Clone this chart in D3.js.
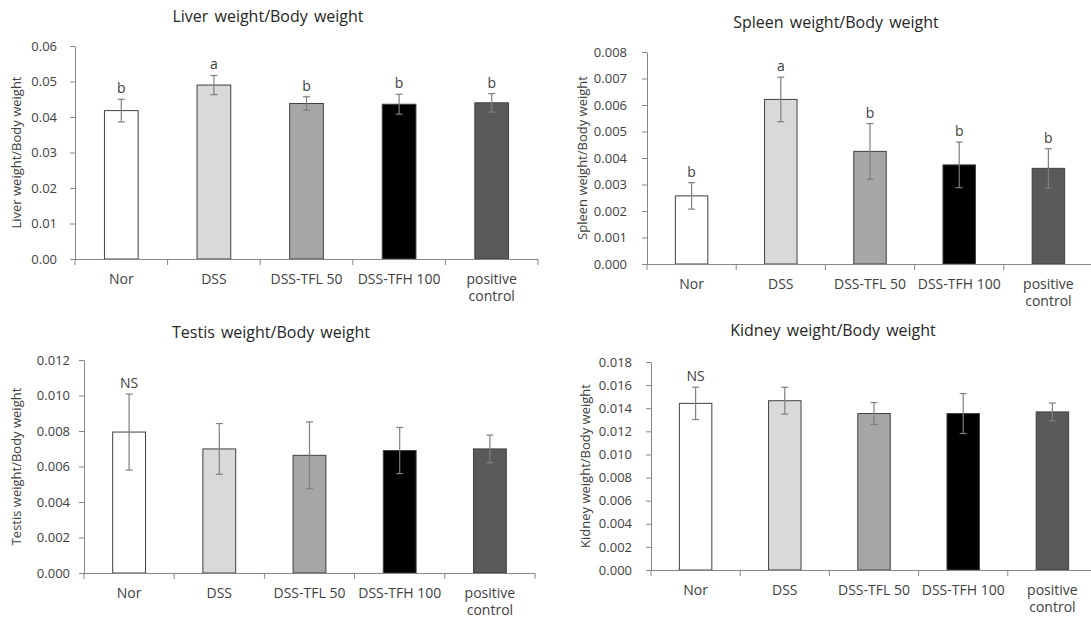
<!DOCTYPE html>
<html>
<head>
<meta charset="utf-8">
<script src="https://cdn.jsdelivr.net/npm/d3@7"></script>
<style>
  body { margin: 0; background: #fff; }
  svg { display: block; font-family: "Open Sans", "Noto Sans", sans-serif; }
</style>
</head>
<body>
<div id="chart"></div>
<script>
// data
const categories = ['Nor', 'DSS', 'DSS-TFL 50', 'DSS-TFH 100', 'positive control'];

const liverMean = [0.0418, 0.0490, 0.0438, 0.0436, 0.0440];
const liverErr = [0.0032, 0.0027, 0.0019, 0.0028, 0.0026];
const liverMarks = ['b', 'a', 'b', 'b', 'b'];
const liverTicks = [0, 0.01, 0.02, 0.03, 0.04, 0.05, 0.06];

const spleenMean = [0.00257, 0.00621, 0.00425, 0.00374, 0.00361];
const spleenErr = [0.00050, 0.00084, 0.00105, 0.00086, 0.00074];
const spleenMarks = ['b', 'a', 'b', 'b', 'b'];
const spleenTicks = [0, 0.001, 0.002, 0.003, 0.004, 0.005, 0.006, 0.007, 0.008];

const testisMean = [0.00794, 0.00699, 0.00663, 0.00690, 0.00699];
const testisErr = [0.00214, 0.00143, 0.00188, 0.00130, 0.00078];
const testisMarks = ['NS', '', '', '', ''];
const testisTicks = [0, 0.002, 0.004, 0.006, 0.008, 0.010, 0.012];

const kidneyMean = [0.01442, 0.01465, 0.01354, 0.01354, 0.01368];
const kidneyErr = [0.00140, 0.00116, 0.00095, 0.00173, 0.00077];
const kidneyMarks = ['NS', '', '', '', ''];
const kidneyTicks = [0, 0.002, 0.004, 0.006, 0.008, 0.010, 0.012, 0.014, 0.016, 0.018];

// styles
const barColors = ['#ffffff', '#d9d9d9', '#a6a6a6', '#000000', '#595959'];
const textColor = '#404040';
const axisColor = '#868686';
const gap = 0.636; // excel gap width 175%

const svg = d3.select('#chart').append('svg')
  .attr('width', 1091)
  .attr('height', 618);

function drawPanel (p) {
  const g = svg.append('g');

  const y = d3.scaleLinear()
    .domain([0, d3.max(p.ticks)])
    .range([p.bottom, p.top]);

  const x = d3.scaleBand()
    .domain(categories)
    .range([p.left, p.right])
    .paddingInner(gap)
    .paddingOuter(gap / 2);

  // title
  g.append('text')
    .attr('x', p.titleX)
    .attr('y', p.titleY)
    .attr('text-anchor', 'middle')
    .attr('font-size', 16)
    .attr('word-spacing', 2)
    .attr('fill', '#262626')
    .text(p.title);

  // y axis label
  g.append('text')
    .attr('transform', `translate(${p.labelX}, ${(p.top + p.bottom) / 2}) rotate(-90)`)
    .attr('text-anchor', 'middle')
    .attr('font-size', 13)
    .attr('fill', textColor)
    .text(p.title);

  // y axis
  const yAxis = g.append('g')
    .attr('transform', `translate(${p.left}, 0)`)
    .call(d3.axisLeft(y).tickValues(p.ticks).tickFormat(d3.format(p.fmt)).tickSize(5).tickSizeOuter(0));
  yAxis.select('.domain').attr('stroke', axisColor);
  yAxis.selectAll('.tick line').attr('stroke', axisColor);
  yAxis.selectAll('.tick text')
    .attr('font-size', 13)
    .attr('fill', textColor)
    .attr('font-family', '"Open Sans", "Noto Sans", sans-serif')
    .attr('x', -p.tickGap);

  // bars
  const rows = categories.map((c, i) => ({ c, i, v: p.mean[i], e: p.err[i], m: p.marks[i] }));

  g.append('g')
    .selectAll('rect')
    .data(rows)
    .join('rect')
    .attr('x', d => x(d.c))
    .attr('y', d => y(d.v))
    .attr('width', x.bandwidth())
    .attr('height', d => y(0) - y(d.v))
    .attr('fill', d => barColors[d.i])
    .attr('stroke', '#404040')
    .attr('stroke-width', 1);

  // error bars
  const eb = g.append('g')
    .attr('stroke', '#7f7f7f')
    .attr('stroke-width', 1.2);
  const cx = d => x(d.c) + x.bandwidth() / 2;
  eb.selectAll('line.v')
    .data(rows)
    .join('line')
    .attr('class', 'v')
    .attr('x1', cx).attr('x2', cx)
    .attr('y1', d => y(d.v + d.e))
    .attr('y2', d => y(d.v - d.e));
  ['+', '-'].forEach(s => {
    eb.selectAll('line.c' + (s === '+' ? 'u' : 'd'))
      .data(rows)
      .join('line')
      .attr('class', 'c' + (s === '+' ? 'u' : 'd'))
      .attr('x1', d => cx(d) - 3.5).attr('x2', d => cx(d) + 3.5)
      .attr('y1', d => y(s === '+' ? d.v + d.e : d.v - d.e))
      .attr('y2', d => y(s === '+' ? d.v + d.e : d.v - d.e));
  });

  // significance letters
  g.append('g')
    .selectAll('text')
    .data(rows.filter(d => d.m))
    .join('text')
    .attr('x', cx)
    .attr('y', d => y(d.v + d.e) - 6)
    .attr('text-anchor', 'middle')
    .attr('font-size', 14)
    .attr('fill', textColor)
    .text(d => d.m);

  // x axis
  g.append('line')
    .attr('x1', p.left - 1).attr('x2', p.right)
    .attr('y1', p.bottom + 0.5).attr('y2', p.bottom + 0.5)
    .attr('stroke', axisColor);
  const step = x.step();
  const bounds = categories.map(c => x(c) - (step - x.bandwidth()) / 2).concat([p.right]);
  g.append('g')
    .selectAll('line')
    .data(bounds)
    .join('line')
    .attr('x1', d => d).attr('x2', d => d)
    .attr('y1', p.bottom).attr('y2', p.bottom + 6)
    .attr('stroke', axisColor);

  const lab = g.append('g')
    .selectAll('text')
    .data(categories)
    .join('text')
    .attr('x', d => x(d) + x.bandwidth() / 2)
    .attr('y', p.bottom + 25)
    .attr('text-anchor', 'middle')
    .attr('font-size', 14)
    .attr('fill', textColor);
  lab.each(function (d) {
    const words = d === 'positive control' ? ['positive', 'control'] : [d];
    d3.select(this).selectAll('tspan')
      .data(words)
      .join('tspan')
      .attr('x', x(d) + x.bandwidth() / 2)
      .attr('dy', (w, i) => i === 0 ? 0 : 17)
      .text(w => w);
  });
}

drawPanel({
  title: 'Liver weight/Body weight', mean: liverMean, err: liverErr, marks: liverMarks,
  ticks: liverTicks, fmt: '.2f', tickGap: 18,
  left: 75, right: 538, top: 46, bottom: 259, titleX: 268, titleY: 22, labelX: 21
});
drawPanel({
  title: 'Spleen weight/Body weight', mean: spleenMean, err: spleenErr, marks: spleenMarks,
  ticks: spleenTicks, fmt: '.3f', tickGap: 20,
  left: 647, right: 1093, top: 52, bottom: 264, titleX: 836, titleY: 28, labelX: 587
});
drawPanel({
  title: 'Testis weight/Body weight', mean: testisMean, err: testisErr, marks: testisMarks,
  ticks: testisTicks, fmt: '.3f', tickGap: 14,
  left: 84, right: 535, top: 360, bottom: 573, titleX: 271, titleY: 338, labelX: 21
});
drawPanel({
  title: 'Kidney weight/Body weight', mean: kidneyMean, err: kidneyErr, marks: kidneyMarks,
  ticks: kidneyTicks, fmt: '.3f', tickGap: 19,
  left: 651, right: 1097, top: 362, bottom: 570, titleX: 833, titleY: 336, labelX: 590
});
</script>
</body>
</html>
